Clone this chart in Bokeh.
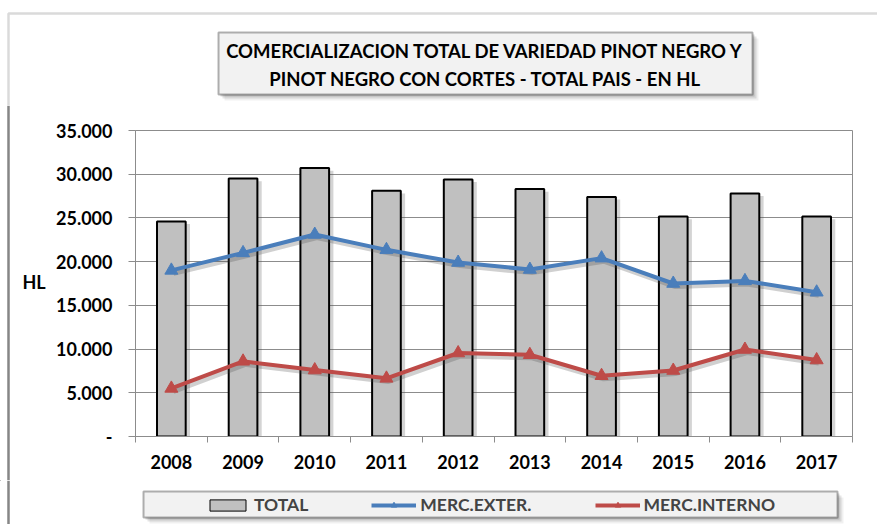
from bokeh.plotting import figure
from bokeh.layouts import column, row
from bokeh.models import (FixedTicker, BoxAnnotation, Label, Legend, LegendItem,
                          ColumnDataSource, Range1d, Span)
from bokeh.embed import file_html
from bokeh.resources import INLINE

# ---------------- data ----------------
years = [2008, 2009, 2010, 2011, 2012, 2013, 2014, 2015, 2016, 2017]
year_labels = ["2008", "2009", "2010", "2011", "2012", "2013", "2014", "2015", "2016", "2017"]
total = [24600, 29500, 30700, 28100, 29400, 28300, 27400, 25150, 27800, 25150]
merc_exter = [19000, 21000, 23100, 21350, 19900, 19100, 20400, 17500, 17800, 16500]
merc_interno = [5500, 8600, 7600, 6650, 9550, 9350, 6950, 7550, 9950, 8750]
y_ticks = [0, 5000, 10000, 15000, 20000, 25000, 30000, 35000]
y_tick_labels = ["-", "5.000", "10.000", "15.000", "20.000", "25.000", "30.000", "35.000"]
title_lines = ["COMERCIALIZACION TOTAL DE VARIEDAD PINOT NEGRO Y",
               "PINOT NEGRO CON CORTES - TOTAL PAIS - EN HL"]
y_title = "HL"
series_names = ["TOTAL", "MERC.EXTER.", "MERC.INTERNO"]

FONT = "Lato"
GRID = "#8c8c8c"
FRAME_GRAY = "#868686"
BLUE = "#4a7ebb"
RED = "#be4b48"
BAR = "#c0c0c0"
BOXFILL = "#f2f2f2"
W = 877


def aux_fig(width, height, y0):
    f = figure(width=width, height=height, output_backend="svg", toolbar_location=None,
               x_range=Range1d(0, width), y_range=Range1d(y0 + height, y0),
               x_axis_location=None, y_axis_location=None, min_border=0)
    f.outline_line_color = None
    f.grid.visible = False
    f.background_fill_color = "white"
    f.border_fill_color = "white"
    if "frame_align" in f.properties():
        f.frame_align = False
    return f


def box(f, l, r, t, b, **kw):
    f.add_layout(BoxAnnotation(left=l, right=r, top=t, bottom=b, **kw))


def shadowed_box(f, l, r, t, b):
    for d, a in [(6, 0.06), (4, 0.10), (2, 0.14)]:
        box(f, l + d, r + d, t + d, b + d, fill_color="black", fill_alpha=a, line_color=None)
    box(f, l, r, t, b, fill_color=BOXFILL, fill_alpha=1, line_color="black", line_width=2)


def left_rule(f):
    f.add_layout(Span(location=8, dimension="height", line_color=FRAME_GRAY, line_width=2.5))


# ---------------- title strip ----------------
tf = aux_fig(W, 105, 0)
box(tf, 8, 2000, 13, 2000, fill_color=None, line_color=FRAME_GRAY, line_width=2.5)
shadowed_box(tf, 218, 752, 32, 94)
for i, t in enumerate(title_lines):
    tf.add_layout(Label(x=485, y=50 + i * 28, text=t, text_align="center",
                        text_baseline="middle", text_font=FONT, text_font_style="bold",
                        text_font_size="18.5px", text_color="black"))

# ---------------- left strip (HL) ----------------
lf = aux_fig(50, 375, 105)
left_rule(lf)
lf.add_layout(Label(x=22, y=281, text=y_title, text_align="left", text_baseline="middle",
                    text_font=FONT, text_font_style="bold", text_font_size="18px",
                    text_color="black"))

# ---------------- main chart ----------------
src = ColumnDataSource(dict(x=years, total=total, exter=merc_exter, interno=merc_interno))

p = figure(width=W - 50, height=375, output_backend="svg", toolbar_location=None,
           x_range=Range1d(years[0] - 0.5, years[-1] + 0.5),
           y_range=Range1d(y_ticks[0], y_ticks[-1]),
           min_border_left=85, min_border_right=25, min_border_top=25, min_border_bottom=44)
p.outline_line_color = GRID
p.background_fill_color = "white"
p.border_fill_color = "white"
if "frame_align" in p.properties():
    p.frame_align = False

p.vbar(x=[y + 0.045 for y in years], top=[t - 300 for t in total], width=0.43,
       fill_color="#555555", fill_alpha=0.25, line_color=None)
p.vbar(x="x", top="total", width=0.4, source=src, fill_color=BAR,
       line_color="black", line_width=2)

p.line([y + 0.03 for y in years], [v - 350 for v in merc_exter], line_color="#444444",
       line_alpha=0.25, line_width=5)
p.line([y + 0.03 for y in years], [v - 350 for v in merc_interno], line_color="#444444",
       line_alpha=0.25, line_width=5)

p.line("x", "exter", source=src, line_color=BLUE, line_width=4)
p.scatter("x", "exter", source=src, marker="triangle", size=13, fill_color=BLUE,
          line_color=BLUE)
p.line("x", "interno", source=src, line_color=RED, line_width=4)
p.scatter("x", "interno", source=src, marker="triangle", size=13, fill_color=RED,
          line_color=RED)

p.xgrid.grid_line_color = None
p.ygrid.grid_line_color = GRID
p.ygrid.ticker = FixedTicker(ticks=y_ticks)

bounds = [y - 0.5 for y in years] + [years[-1] + 0.5]
p.xaxis.ticker = FixedTicker(ticks=years, minor_ticks=bounds)
p.xaxis.major_label_overrides = {y: l for y, l in zip(years, year_labels)}
p.xaxis.major_tick_line_color = None
p.xaxis.major_tick_out = 6
p.xaxis.minor_tick_line_color = GRID
p.xaxis.minor_tick_in = 0
p.xaxis.minor_tick_out = 6
p.xaxis.axis_line_color = GRID
p.xaxis.major_label_standoff = 12

p.yaxis.ticker = FixedTicker(ticks=y_ticks)
p.yaxis.major_label_overrides = {t: l for t, l in zip(y_ticks, y_tick_labels)}
p.yaxis.major_tick_line_color = GRID
p.yaxis.major_tick_in = 0
p.yaxis.major_tick_out = 7
p.yaxis.minor_tick_line_color = None
p.yaxis.axis_line_color = GRID
p.yaxis.major_label_standoff = 16

for ax in (p.xaxis[0], p.yaxis[0]):
    ax.major_label_text_font = FONT
    ax.major_label_text_font_style = "bold"
    ax.major_label_text_font_size = "18px"
    ax.major_label_text_color = "black"

# ---------------- legend strip ----------------
gf = aux_fig(W, 44, 480)
left_rule(gf)
shadowed_box(gf, 143, 837, 491, 517)
# legend swatches (renderers placed outside the visible range)
lb = gf.vbar(x=[-100], top=[1], width=1, fill_color=BAR, line_color="black", line_width=1)
ll1 = gf.line([-200, -100], [1, 1], line_color=BLUE, line_width=4)
ls1 = gf.scatter([-100], [1], marker="triangle", size=10, fill_color=BLUE, line_color=BLUE)
ll2 = gf.line([-200, -100], [1, 1], line_color=RED, line_width=4)
ls2 = gf.scatter([-100], [1], marker="triangle", size=10, fill_color=RED, line_color=RED)

legend = Legend(items=[LegendItem(label=series_names[0], renderers=[lb]),
                       LegendItem(label=series_names[1], renderers=[ll1, ls1]),
                       LegendItem(label=series_names[2], renderers=[ll2, ls2])],
                orientation="horizontal", location=(205, 9),
                background_fill_alpha=0, border_line_color=None,
                label_text_font=FONT, label_text_font_style="bold",
                label_text_font_size="17.5px", glyph_width=45, glyph_height=14,
                label_standoff=4, spacing=63, padding=0, margin=0)
gf.add_layout(legend)

layout = column(tf, row(lf, p), gf)
open("out.html", "w").write(file_html(layout, INLINE))
